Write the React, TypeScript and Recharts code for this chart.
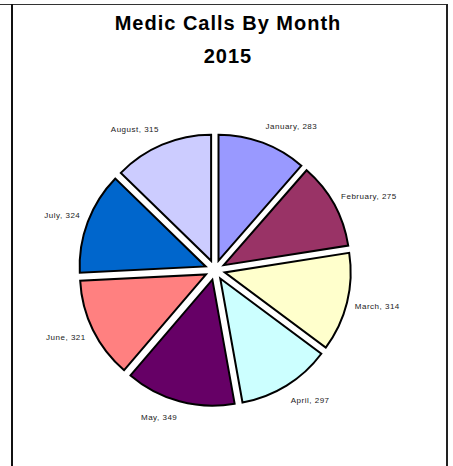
import { PieChart, Pie, Cell, Sector } from 'recharts'

const months = ['January', 'February', 'March', 'April', 'May', 'June', 'July', 'August']
const calls = [283, 275, 314, 297, 349, 321, 324, 315]
const colors = ['#9999FF', '#993366', '#FFFFCC', '#CCFFFF', '#660066', '#FF8080', '#0066CC', '#CCCCFF']

const data = months.map((m, i) => ({ name: m, value: calls[i] }))

const RAD = Math.PI / 180
const EXPLODE = 10

// pull every slice out from the centre along its mid angle
function ExplodedSlice(props: any) {
  const { cx, cy, midAngle } = props
  const dx = EXPLODE * Math.cos(-midAngle * RAD)
  const dy = EXPLODE * Math.sin(-midAngle * RAD)
  return <Sector {...props} cx={cx + dx} cy={cy + dy} />
}

// labels sit on a slightly taller-than-wide ring around the pie
function renderLabel(props: any) {
  const { cx, cy, midAngle, outerRadius, name, value } = props
  const rx = outerRadius + 18
  const ry = outerRadius + 27
  const x = cx + rx * Math.cos(-midAngle * RAD)
  const y = cy + ry * Math.sin(-midAngle * RAD)
  return (
    <text
      x={x}
      y={y}
      textAnchor={x > cx ? 'start' : 'end'}
      dominantBaseline="central"
      fill="#1a1a1a"
      fontSize={8}
      letterSpacing={0.5}
      fontFamily="'Liberation Sans', Arial, sans-serif"
    >
      {`${name}, ${value}`}
    </text>
  )
}

export default function App() {
  return (
    <div style={{ position: 'absolute', left: 0, top: 0, width: 453, height: 466, background: '#fff' }}>
      <div style={{ position: 'absolute', left: 0, top: 4, width: 448, height: 1, background: '#333' }} />
      <div style={{ position: 'absolute', left: 11, top: 4, width: 2, height: 462, background: '#111' }} />
      <div style={{ position: 'absolute', left: 446, top: 4, width: 2, height: 462, background: '#222' }} />
      <div
        style={{
          position: 'absolute',
          left: 10,
          width: 436,
          top: 7,
          textAlign: 'center',
          fontFamily: "'Liberation Sans', Arial, sans-serif",
          fontWeight: 'bold',
          fontSize: 20,
          letterSpacing: 1,
          lineHeight: '33px',
          color: '#000',
        }}
      >
        <div>Medic Calls By Month</div>
        <div>2015</div>
      </div>
      <div style={{ position: 'absolute', left: 0, top: 0 }}>
        <PieChart width={453} height={466}>
          <Pie
            data={data}
            dataKey="value"
            nameKey="name"
            cx={210}
            cy={265}
            outerRadius={126}
            startAngle={90}
            endAngle={-270}
            stroke="#000"
            strokeWidth={2}
            shape={ExplodedSlice}
            label={renderLabel}
            labelLine={false}
            isAnimationActive={false}
          >
            {data.map((d, i) => (
              <Cell key={d.name} fill={colors[i]} />
            ))}
          </Pie>
        </PieChart>
      </div>
    </div>
  )
}
